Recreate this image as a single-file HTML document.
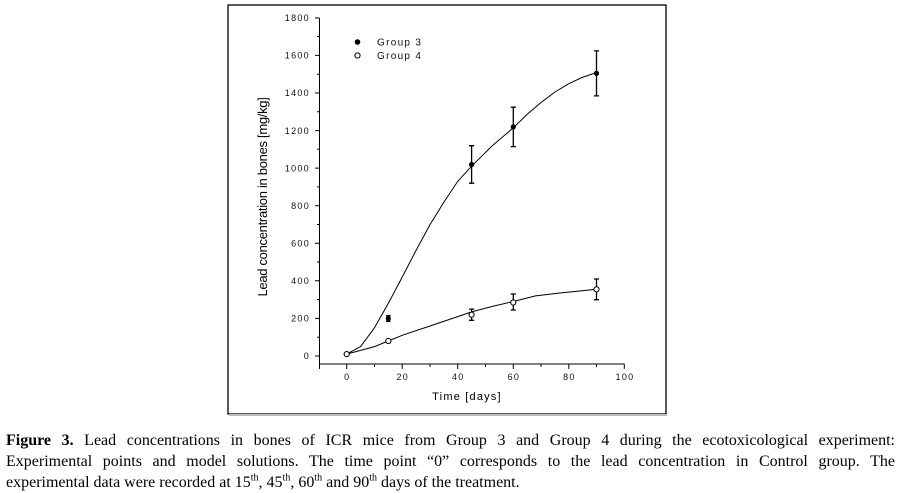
<!DOCTYPE html>
<html><head><meta charset="utf-8"><style>
body{margin:0;width:901px;height:493px;background:#fff;overflow:hidden;position:relative}
svg{position:absolute;left:0;top:0}
.cap{position:absolute;left:6px;width:889px;font-family:"Liberation Serif",serif;font-size:16px;line-height:21px;color:#000;text-align:justify;text-align-last:justify;white-space:nowrap}
.t{font-family:"Liberation Sans",sans-serif;font-size:9px;letter-spacing:1.3px;fill:#111}
sup{font-size:10px;line-height:0}
</style></head><body>
<svg width="901" height="493" viewBox="0 0 901 493">
<rect x="228" y="5" width="438" height="409" fill="none" stroke="#000" stroke-width="1.3"/>
<rect x="229" y="414" width="438" height="2" fill="#bbb"/>
<g stroke="#000" stroke-width="1" fill="none">
<path d="M319.5 18V364H624.5"/>
<path d="M315 356h4.5M315 318.4h4.5M315 280.8h4.5M315 243.3h4.5M315 205.7h4.5M315 168.1h4.5M315 130.6h4.5M315 93h4.5M315 55.4h4.5M315 18h4.5"/>
<path d="M317 337.2h2.5M317 299.6h2.5M317 262h2.5M317 224.5h2.5M317 186.9h2.5M317 149.3h2.5M317 111.8h2.5M317 74.2h2.5M317 36.6h2.5"/>
<path d="M346.7 364v5M402.2 364v5M457.7 364v5M513.3 364v5M568.8 364v5M624.3 364v5M319.5 364v5"/>
<path d="M374.5 364v3M430 364v3M485.5 364v3M541 364v3M596.5 364v3"/>
<polyline stroke-linejoin="round" points="346.7,354.1 360.6,346.6 374.5,327.8 388.3,303.4 402.2,277.1 416,250.5 430,224.6 444,202 457.7,181.4 471.6,166.2 492,146 513.3,127.8 527,114.5 541,102.5 555,92 568.8,83.7 582,77.5 596.5,72.5"/>
<polyline stroke-linejoin="round" points="346.7,354.1 360.6,350.4 374.5,346.6 388.3,341 402.2,335.3 430,326 457.7,316.6 471.6,311.9 492,306.5 513.3,301.5 535.5,295.9 560,293 596.5,289.3"/>
<g stroke-width="1.3">
<path d="M388.3 321.3V315.6M386 321.3h4.6M386 315.6h4.6"/>
<path d="M471.6 183.2V145.7M469 183.2h5.2M469 145.7h5.2"/>
<path d="M513.3 146.6V107.2M510.7 146.6h5.2M510.7 107.2h5.2"/>
<path d="M596.5 95.9V50.9M593.9 95.9h5.2M593.9 50.9h5.2"/>
<path d="M471.6 320.3V309.1M469 320.3h5.2M469 309.1h5.2"/>
<path d="M513.3 310V294M510.7 310h5.2M510.7 294h5.2"/>
<path d="M596.5 299.7V279M593.9 299.7h5.2M593.9 279h5.2"/>
</g>
</g>
<g fill="#000"><circle cx="388.3" cy="318.4" r="2.6"/><circle cx="471.6" cy="164.5" r="2.6"/><circle cx="513.3" cy="126.9" r="2.6"/><circle cx="596.5" cy="73.4" r="2.6"/><circle cx="357.5" cy="42" r="2.8"/></g>
<g fill="#fff" stroke="#000" stroke-width="1"><circle cx="346.7" cy="354.1" r="2.6"/><circle cx="388.3" cy="341" r="2.6"/><circle cx="471.6" cy="314.7" r="2.6"/><circle cx="513.3" cy="302.5" r="2.6"/><circle cx="596.5" cy="289.3" r="2.6"/><circle cx="357.5" cy="55.5" r="2.6"/></g>
<text class="t" x="377" y="45.5" style="font-size:10px">Group 3</text>
<text class="t" x="377" y="59" style="font-size:10px">Group 4</text>
<g class="t" text-anchor="end">
<text x="310" y="359">0</text><text x="310" y="321.5">200</text><text x="310" y="284">400</text><text x="310" y="246.5">600</text><text x="310" y="209">800</text><text x="310" y="171.5">1000</text><text x="310" y="134">1200</text><text x="310" y="96">1400</text><text x="310" y="58.5">1600</text><text x="310" y="21">1800</text>
</g>
<g class="t" text-anchor="middle">
<text x="347.3" y="380">0</text><text x="402.8" y="380">20</text><text x="458.3" y="380">40</text><text x="513.9" y="380">60</text><text x="569.4" y="380">80</text><text x="625" y="380">100</text>
</g>
<text x="467" y="400" text-anchor="middle" style="font-family:'Liberation Sans',sans-serif;font-size:11px;letter-spacing:1.2px">Time [days]</text>
<text transform="translate(267,197) rotate(-90)" text-anchor="middle" style="font-family:'Liberation Sans',sans-serif;font-size:13px;letter-spacing:-0.3px">Lead concentration in bones [mg/kg]</text>
</svg>
<div class="cap" style="top:430px"><b>Figure 3.</b> Lead concentrations in bones of ICR mice from Group 3 and Group 4 during the ecotoxicological experiment:</div>
<div class="cap" style="top:451px">Experimental points and model solutions. The time point “0” corresponds to the lead concentration in Control group. The</div>
<div class="cap" style="top:472px;text-align-last:left">experimental data were recorded at 15<sup>th</sup>, 45<sup>th</sup>, 60<sup>th</sup> and 90<sup>th</sup> days of the treatment.</div>
</body></html>
